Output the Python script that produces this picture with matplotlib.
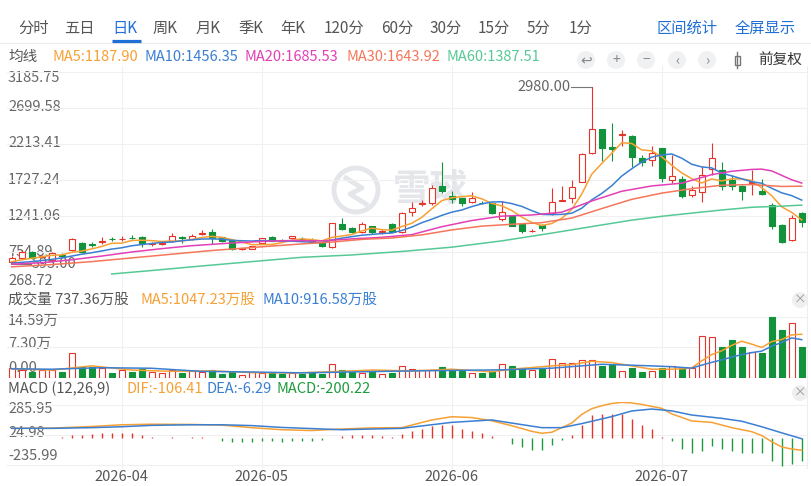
import matplotlib
matplotlib.use("Agg")
import matplotlib.pyplot as plt
from matplotlib.patches import Rectangle, Circle

plt.rcParams['font.family'] = ['Noto Sans CJK SC', 'DejaVu Sans']

W, H = 811, 486

# ---- daily candles (80 sessions) ----
opens = [620, 670, 755, 690, 650, 720, 785, 880, 860, 890,
         935, 925, 950, 960, 860, 860, 905, 960, 925, 1000,
         1030, 955, 920, 795, 800, 875, 955, 920, 945, 935,
         920, 895, 818, 1130, 1085, 1030, 1105, 1030, 1130, 1020,
         1290, 1405, 1415, 1645, 1510, 1480, 1430, 1420, 1410, 1200,
         1240, 1130, 1035, 1115, 1280, 1445, 1480, 1705, 2090, 2410,
         2170, 2335, 2320, 2030, 2000, 2155, 1730, 1735, 1525, 1560,
         1875, 1860, 1725, 1645, 1680, 1585, 1390, 1120, 920, 1285]
highs = [700, 785, 770, 720, 755, 745, 950, 885, 890, 960,
         960, 975, 985, 975, 895, 880, 1015, 965, 1000, 1050,
         1065, 960, 925, 815, 840, 950, 965, 930, 975, 955,
         945, 900, 1150, 1210, 1095, 1165, 1110, 1060, 1140, 1300,
         1435, 1460, 1655, 1975, 1575, 1490, 1560, 1440, 1420, 1440,
         1250, 1140, 1060, 1130, 1615, 1640, 1730, 2090, 2980, 2420,
         2500, 2400, 2340, 2060, 2180, 2165, 2065, 1775, 1650, 1910,
         2225, 1975, 1790, 1665, 1860, 1740, 1410, 1130, 1255, 1290]
lows = [595, 660, 665, 680, 640, 690, 775, 740, 820, 860,
        905, 905, 925, 820, 835, 850, 895, 880, 920, 985,
        860, 890, 785, 780, 790, 870, 900, 905, 935, 910,
        880, 820, 815, 1050, 1015, 1010, 1000, 995, 1020, 1010,
        1235, 1370, 1395, 1545, 1412, 1380, 1410, 1400, 1270, 1170,
        1100, 1010, 1025, 1040, 1255, 1440, 1420, 1700, 2080, 1980,
        1980, 2180, 1905, 1910, 1910, 1700, 1685, 1490, 1495, 1435,
        1800, 1595, 1595, 1460, 1525, 1530, 1060, 870, 910, 1095]
closes = [675, 759, 675, 700, 740, 705, 930, 760, 850, 900,
          925, 935, 940, 870, 870, 870, 965, 945, 965, 1010,
          945, 900, 790, 805, 830, 945, 910, 915, 965, 930,
          890, 830, 1140, 1065, 1030, 1130, 1020, 1040, 1030, 1275,
          1345, 1420, 1615, 1585, 1470, 1420, 1480, 1410, 1280, 1300,
          1110, 1035, 1045, 1075, 1430, 1460, 1635, 2085, 2410, 2160,
          2150, 2350, 2035, 1975, 2095, 1750, 1780, 1515, 1590, 1800,
          2020, 1650, 1650, 1585, 1695, 1540, 1110, 895, 1210, 1165]

# ---- moving averages ----
ma5 = [624, 650, 670, 690, 710, 716, 750, 767, 797, 829,
       873, 874, 910, 914, 908, 897, 903, 904, 923, 951,
       966, 953, 922, 890, 854, 854, 856, 881, 913, 933,
       922, 906, 951, 971, 991, 1039, 1077, 1057, 1050, 1099,
       1142, 1222, 1337, 1448, 1487, 1502, 1514, 1473, 1412, 1378,
       1316, 1227, 1154, 1113, 1139, 1209, 1329, 1537, 1804, 1950,
       2088, 2231, 2221, 2134, 2121, 2041, 1927, 1823, 1746, 1687,
       1741, 1715, 1742, 1741, 1720, 1624, 1516, 1365, 1290, 1188]
ma10 = [605, 615, 625, 640, 655, 675, 700, 725, 745, 769,
        794, 812, 839, 856, 869, 885, 889, 907, 919, 930,
        932, 928, 913, 907, 903, 910, 905, 902, 902, 894,
        888, 881, 916, 942, 962, 981, 992, 1004, 1011, 1045,
        1091, 1150, 1197, 1249, 1293, 1322, 1368, 1405, 1430, 1433,
        1409, 1371, 1314, 1263, 1259, 1263, 1278, 1346, 1459, 1545,
        1649, 1780, 1879, 1969, 2036, 2065, 2079, 2022, 1940, 1904,
        1891, 1821, 1783, 1744, 1704, 1683, 1616, 1554, 1516, 1456]
ma20_idx = [0, 3, 6, 9, 12, 15, 18, 22, 25, 28, 31, 34, 37, 40, 43, 46, 49,
            52, 55, 58, 61, 64, 67, 70, 72, 74, 75, 76, 77, 78, 79]
ma20 = [590, 610, 650, 700, 755, 800, 840, 876, 898, 910, 905, 932, 953, 989,
        1096, 1180, 1239, 1255, 1292, 1444, 1575, 1647, 1684, 1800, 1845, 1870,
        1874, 1850, 1790, 1730, 1686]
ma30_idx = [0, 4, 8, 12, 16, 20, 24, 26, 29, 32, 35, 38, 41, 44, 47, 50, 53,
            56, 59, 62, 65, 68, 71, 74, 77, 79]
ma30 = [555, 585, 625, 675, 725, 775, 815, 835, 864, 889, 925, 944, 986, 1053,
        1104, 1129, 1151, 1213, 1341, 1466, 1550, 1610, 1657, 1666, 1640, 1644]
ma60_idx = [10, 14, 19, 24, 29, 34, 39, 44, 49, 54, 59, 62, 65, 68, 71, 74, 77, 79]
ma60 = [458, 505, 566, 625, 683, 715, 762, 820, 905, 1010, 1120, 1185, 1237,
        1280, 1322, 1359, 1374, 1388]

# ---- volume (万) ----
volume = [2.4, 1.9, 1.5, 1.9, 1.8, 1.5, 5.9, 2.7, 2.7, 2.3,
          1.3, 1.9, 1.5, 2.1, 1.4, 1.2, 1.9, 1.3, 1.7, 1.5,
          2.0, 1.0, 1.5, 0.8, 1.4, 1.3, 1.2, 1.0, 1.2, 0.9,
          1.3, 1.0, 3.3, 1.8, 1.4, 1.3, 1.5, 1.0, 1.2, 2.8,
          2.1, 1.8, 1.9, 2.6, 1.9, 1.6, 1.3, 1.2, 1.7, 3.4,
          2.8, 2.5, 2.0, 2.4, 4.6, 3.5, 3.7, 4.2, 4.2, 2.9,
          3.3, 1.7, 2.3, 1.5, 1.7, 2.3, 2.9, 2.5, 2.5, 10.1,
          9.9, 7.5, 9.1, 7.5, 6.3, 6.0, 14.59, 11.6, 13.2, 7.37]
vma5_idx = [0, 4, 8, 12, 16, 20, 24, 28, 32, 36, 40, 44, 48, 50, 52, 54, 56, 58,
            60, 62, 64, 66, 67, 68, 69, 70, 71, 72, 73, 74, 75, 76, 77, 78, 79]
vma5 = [2.2, 1.9, 2.9, 1.9, 1.6, 1.7, 1.3, 1.2, 1.5, 1.9, 1.7, 2.1, 1.5, 2.1,
        2.5, 2.9, 3.2, 4.0, 3.7, 2.9, 2.1, 2.1, 2.2, 2.4, 4.1, 5.6, 6.5, 7.8,
        8.8, 8.1, 7.3, 8.7, 9.2, 10.3, 10.47]
vma10_idx = [0, 4, 9, 14, 19, 24, 29, 34, 39, 44, 49, 54, 59, 64, 66, 68, 69,
             70, 71, 72, 73, 74, 75, 76, 77, 78, 79]
vma10 = [2.2, 2.1, 2.46, 2.33, 1.58, 1.43, 1.23, 1.44, 1.66, 1.81, 1.95, 2.35,
         3.28, 2.9, 2.7, 2.36, 3.08, 3.74, 4.32, 5.0, 5.6, 6.06, 6.43, 7.6, 8.5,
         9.58, 9.17]

# ---- MACD(12,26,9) ----
dif_idx = [0, 4, 8, 11, 14, 18, 21, 24, 27, 30, 33, 36, 39, 42, 44, 46, 48, 50,
           52, 53, 54, 56, 57, 58, 59, 60, 61, 62, 63, 64, 65, 66, 68, 70, 72,
           74, 75, 76, 77, 78, 79]
dif = [84, 86, 100, 115, 120, 118, 112, 90, 72, 65, 78, 88, 90, 157, 185, 178,
       150, 107, 58, 41, 50, 130, 205, 255, 281, 300, 310, 305, 292, 275, 258,
       210, 148, 136, 90, 55, 22, -32, -78, -96, -106.41]
dea_idx = [0, 4, 8, 11, 14, 18, 21, 24, 27, 30, 33, 36, 39, 44, 48, 50, 53, 55,
           57, 60, 62, 64, 66, 68, 71, 73, 75, 77, 79]
dea = [84, 84, 90, 98, 110, 115, 115, 108, 92, 82, 72, 78, 84, 136, 157, 130,
       90, 90, 125, 186, 235, 252, 236, 200, 171, 146, 98, 45, -6.29]
macd_hist = [0, 0, 0, 0, 4, 12, 29, 29, 35, 43,
             43, 43, 43, 29, 9, 0, 8, 0, 8, 8,
             0, -29, -35, -35, -35, -29, -30, -32, -30, -28,
             -25, -20, 4, 20, 25, 28, 25, 20, 8, 35,
             58, 81, 101, 116, 110, 81, 64, 43, 14, -3,
             -52, -81, -101, -101, -58, -15, 29, 116, 197, 209,
             209, 209, 168, 116, 81, 10, -29, -93, -130, -116,
             -72, -93, -116, -130, -130, -130, -203, -246, -226, -200.22]

month_idx = [11, 25, 44, 65]
month_labels = ['2026-04', '2026-05', '2026-06', '2026-07']
price_ticks = [3185.75, 2699.58, 2213.41, 1727.24, 1241.06, 754.89, 268.72]
vol_ticks = [14.59, 7.30, 0.00]
macd_ticks = [285.95, 24.98, -235.99]

RED = '#e5352b'
GREEN = '#12923a'
C_MA5 = '#f7a034'
C_MA10 = '#3a7fd2'
C_MA20 = '#e33fb6'
C_MA30 = '#f5765a'
C_MA60 = '#56c995'
C_MACD = '#1c9a3c'
TXT = '#555555'
BLUE_UI = '#1f6fd6'
GRID = '#f0f0f0'

fig = plt.figure(figsize=(W / 100, H / 100), dpi=100, facecolor='white')


def px_axes(x0, y0, x1, y1):
    ax = fig.add_axes([x0 / W, 1 - y1 / H, (x1 - x0) / W, (y1 - y0) / H])
    ax.set_facecolor('none')
    ax.axis('off')
    return ax


def xpix(i):
    return 11.7 + 10 * i


# background layer: decorations, labels, watermark
bg = px_axes(0, 0, W, H)
bg.set_xlim(0, W)
bg.set_ylim(H, 0)


def txt(x, y, s, color=TXT, size=10.5, ha='left', **kw):
    bg.text(x, y, s, color=color, fontsize=size, ha=ha, va='center', **kw)


# tab bar
tabs = [('分时', 18), ('五日', 64), ('日K', 112), ('周K', 153), ('月K', 196),
        ('季K', 238), ('年K', 280), ('120分', 324), ('60分', 381), ('30分', 430),
        ('15分', 478), ('5分', 527), ('1分', 569)]
for name, x in tabs:
    txt(x, 28, name, color=BLUE_UI if name == '日K' else TXT, size=11)
txt(656, 28, '区间统计', color=BLUE_UI, size=11)
txt(735, 28, '全屏显示', color=BLUE_UI, size=11)
bg.plot([0, W], [43, 43], color='#ececec', lw=0.8)
bg.plot([112, 141], [41.5, 41.5], color=BLUE_UI, lw=2.3, solid_capstyle='butt')

# MA legend
txt(8, 57, '均线', size=10.5)
txt(52, 57, 'MA5:1187.90', color=C_MA5)
txt(145, 57, 'MA10:1456.35', color=C_MA10)
txt(245, 57, 'MA20:1685.53', color=C_MA20)
txt(346, 57, 'MA30:1643.92', color=C_MA30)
txt(446, 57, 'MA60:1387.51', color=C_MA60)

# toolbar icons
for x, g in [(586, '↩'), (616, '+'), (646, '−'), (677, '‹'), (707, '›')]:
    bg.add_patch(Circle((x, 60), 9, color='#f0f1f3', lw=0))
    txt(x, 60, g, color='#888888', size=10, ha='center')
bg.add_patch(Rectangle((734.5, 56), 5, 9, facecolor='none', edgecolor='#777777', lw=1))
bg.plot([737, 737], [52, 68], color='#777777', lw=1, zorder=0)
txt(758, 60, '前复权', size=10.5, color='#333333')

# grid: vertical month lines across all panels, right border
for i in month_idx:
    bg.plot([xpix(i)] * 2, [66, 468], color=GRID, lw=0.8)
bg.plot([807, 807], [66, 468], color='#eeeeee', lw=0.8)

# price axis labels
for v, y in zip(price_ticks, [78, 107, 143, 180, 216, 252, 281]):
    txt(8, y, f'{v:.2f}', color='#666666')

# watermark
bg.add_patch(Circle((356, 190), 22, facecolor='none', edgecolor='#e4e6ea', lw=3.5))
bg.plot([346, 362, 350, 366], [178, 188, 194, 204], color='#e4e6ea', lw=3.5)
txt(393, 189, '雪球', color='#e4e6ea', size=27, fontweight='bold')

# volume header and axis
txt(8, 300, '成交量 737.36万股')
txt(140, 300, 'MA5:1047.23万股', color=C_MA5)
txt(262, 300, 'MA10:916.58万股', color=C_MA10)
bg.add_patch(Circle((800, 300), 8, color='#efefef', lw=0))
txt(800, 300, '×', color='#999999', size=9, ha='center')
for v, y in zip(vol_ticks, [321, 344, 368]):
    txt(8, y, f'{v:.2f}万' if v > 0 else '0.00', color='#666666')

# MACD header and axis
txt(8, 389, 'MACD (12,26,9)')
txt(127, 389, 'DIF:-106.41', color=C_MA5)
txt(207, 389, 'DEA:-6.29', color=C_MA10)
txt(277, 389, 'MACD:-200.22', color=C_MACD)
bg.add_patch(Circle((800, 393), 8, color='#efefef', lw=0))
txt(800, 393, '×', color='#999999', size=9, ha='center')
for v, y in zip(macd_ticks, [409, 433, 456]):
    txt(8, y, f'{v:.2f}', color='#666666')

# date labels
for i, lab in zip(month_idx, month_labels):
    txt(xpix(i), 477, lab, ha='center', size=10.5)

n = len(closes)
X0, X1 = 6.7, 806.7

# ---- main candle panel ----
ax = px_axes(X0, 72, X1, 288)
ax.set_xlim(-0.5, n - 0.5)
ax.set_ylim(price_ticks[-1], price_ticks[0])
for v in price_ticks:
    ax.axhline(v, color=GRID, lw=0.8, zorder=0)
for i in range(n):
    o, h, l, c = opens[i], highs[i], lows[i], closes[i]
    up = c >= o
    col = RED if up else GREEN
    top, bot = max(o, c), min(o, c)
    ax.vlines(i, top, h, color=col, lw=0.8, zorder=3)
    ax.vlines(i, l, bot, color=col, lw=0.8, zorder=3)
    ax.add_patch(Rectangle((i - 0.32, bot), 0.64, top - bot,
                           facecolor='white' if up else col, edgecolor=col,
                           lw=0.8, zorder=3))
ax.plot(range(n), ma5, color=C_MA5, lw=1.1, zorder=4)
ax.plot(range(n), ma10, color=C_MA10, lw=1.1, zorder=4)
ax.plot(ma20_idx, ma20, color=C_MA20, lw=1.1, zorder=4)
ax.plot(ma30_idx, ma30, color=C_MA30, lw=1.1, zorder=4)
ax.plot(ma60_idx, ma60, color=C_MA60, lw=1.1, zorder=4)

# max / min markers
imax = highs.index(max(highs))
imin = lows.index(min(lows))
ax.plot([imax, imax - 2.1], [highs[imax]] * 2, color='#777777', lw=0.8, zorder=2)
ax.text(imax - 2.15, highs[imax], f'{highs[imax]:.2f}', color='#666666',
        fontsize=10.5, ha='right', va='center')
ax.plot([imin, imin + 1.9], [lows[imin]] * 2, color='#777777', lw=0.8, zorder=2)
ax.text(imin + 2.0, lows[imin], f'{lows[imin]:.2f}', color='#666666',
        fontsize=10.5, ha='left', va='center', zorder=1)

# ---- volume panel ----
axv = px_axes(X0, 310, X1, 378)
axv.set_xlim(-0.5, n - 0.5)
axv.set_ylim(0, 68 * vol_ticks[0] / 61)
for v in vol_ticks:
    axv.axhline(v, color=GRID, lw=0.8, zorder=0)
for i in range(n):
    up = closes[i] >= opens[i]
    col = RED if up else GREEN
    axv.add_patch(Rectangle((i - 0.32, 0), 0.64, volume[i],
                            facecolor='white' if up else col, edgecolor=col,
                            lw=0.8, zorder=3))
axv.plot(vma5_idx, vma5, color=C_MA5, lw=1.1, zorder=4)
axv.plot(vma10_idx, vma10, color=C_MA10, lw=1.1, zorder=4)

# ---- MACD panel ----
axm = px_axes(X0, 402, X1, 468)
axm.set_xlim(-0.5, n - 0.5)
axm.set_ylim(-30 * 8.7, 36 * 8.7)
for v in macd_ticks:
    axm.axhline(v, color=GRID, lw=0.8, zorder=0)
for i, v in enumerate(macd_hist):
    if v != 0:
        axm.vlines(i, 0, v, color=RED if v > 0 else C_MACD, lw=1.0, zorder=3)
axm.plot(dif_idx, dif, color=C_MA5, lw=1.1, zorder=4)
axm.plot(dea_idx, dea, color=C_MA10, lw=1.1, zorder=4)

fig.savefig('out.png', dpi=100, facecolor='white')
